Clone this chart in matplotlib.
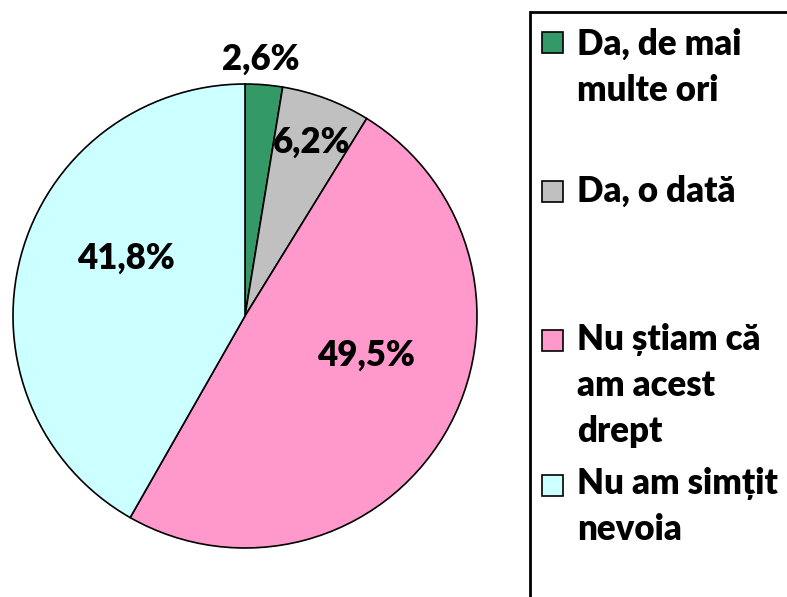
import numpy as np
import matplotlib.pyplot as plt
from matplotlib.patches import Rectangle

labels = ['Da, de mai\nmulte ori', 'Da, o dată', 'Nu știam că\nam acest\ndrept', 'Nu am simțit\nnevoia']
values = [2.6, 6.2, 49.5, 41.8]
value_text = ['2,6%', '6,2%', '49,5%', '41,8%']
colors = ['#339966', '#C0C0C0', '#FF99CC', '#CCFFFF']

# label placement (distance from centre as share of radius, angle in degrees)
label_pos = [(1.11, 86.5), (0.80, 69.0), (0.55, -18.0), (0.57, 154.0)]

W, H = 787, 597
fig = plt.figure(figsize=(W / 100, H / 100), dpi=100)
ax = fig.add_axes([0, 0, 1, 1])

cx, cy, r = 245, H - 316, 232
ax.pie(values, colors=colors, startangle=90, counterclock=False,
       center=(cx, cy), radius=r, frame=True,
       wedgeprops=dict(edgecolor='black', linewidth=1.2))
ax.set_xlim(0, W)
ax.set_ylim(0, H)
ax.axis('off')

font = ['Lato', 'DejaVu Sans']
for txt, (d, ang) in zip(value_text, label_pos):
    a = np.radians(ang)
    ax.text(cx + d * r * np.cos(a), cy + d * r * np.sin(a), txt,
            ha='center', va='center', fontsize=25, fontweight='heavy', family=font)

# legend box
ax.add_patch(Rectangle((530, -10), 300, H - 12 + 10, fill=False,
                       edgecolor='black', linewidth=2, clip_on=False))
entry_y = [42, 191, 340, 485]
baseline_y = [55, 202, 350, 494]
pitch = 46
for lab, col, y, b in zip(labels, colors, entry_y, baseline_y):
    ax.add_patch(Rectangle((542, H - y - 10.5), 21, 21, facecolor=col,
                           edgecolor='black', linewidth=1.2))
    for i, line in enumerate(lab.split('\n')):
        ax.text(577, H - b - i * pitch, line, ha='left', va='baseline', fontsize=25,
                fontweight='heavy', family=font)

fig.savefig('out.png', dpi=100)
